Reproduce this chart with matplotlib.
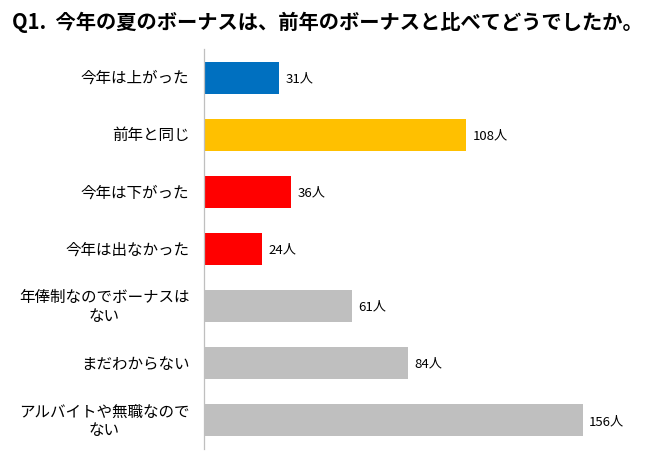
import matplotlib
matplotlib.use("Agg")
import matplotlib.pyplot as plt

plt.rcParams['font.family'] = ['Noto Sans CJK JP', 'DejaVu Sans']

title = "Q1.  今年の夏のボーナスは、前年のボーナスと比べてどうでしたか。"
categories = ["今年は上がった", "前年と同じ", "今年は下がった", "今年は出なかった",
              "年俸制なのでボーナスは\nない", "まだわからない", "アルバイトや無職なので\nない"]
values = [31, 108, 36, 24, 61, 84, 156]
colors = ["#0070C0", "#FFC000", "#FF0000", "#FF0000", "#BFBFBF", "#BFBFBF", "#BFBFBF"]
unit = "人"

fig = plt.figure(figsize=(6.5, 4.6), dpi=100)
ax = fig.add_axes([204/650, 10/460, 437/650, 400/460])
y = list(range(len(categories)))
ax.barh(y, values, height=0.56, color=colors)
ax.set_ylim(len(categories) - 0.5, -0.5)
ax.set_xlim(0, 180)
ax.set_yticks(y)
ax.set_yticklabels([])
ax.tick_params(axis='y', length=0)
ax.set_xticks([])
for s in ['top', 'right', 'bottom']:
    ax.spines[s].set_visible(False)
ax.spines['left'].set_color('#BFBFBF')
ax.spines['left'].set_linewidth(0.9)
for yi, lab in zip(y, categories):
    ax.annotate(lab, (0, yi), xycoords=ax.get_yaxis_transform(), xytext=(-10.5, 0),
                textcoords='offset points', va='center', ha='right',
                multialignment='center', linespacing=1.15, fontsize=11.2)
for yi, v in zip(y, values):
    ax.annotate(f"{v}{unit}", (v, yi), xytext=(4.5, 0), textcoords='offset points',
                va='center', ha='left', fontsize=9.5)
fig.text(12/650, 1 - 22/460, title, fontsize=14.6, fontweight='bold', va='center', ha='left')
fig.savefig("out.png", dpi=100)
